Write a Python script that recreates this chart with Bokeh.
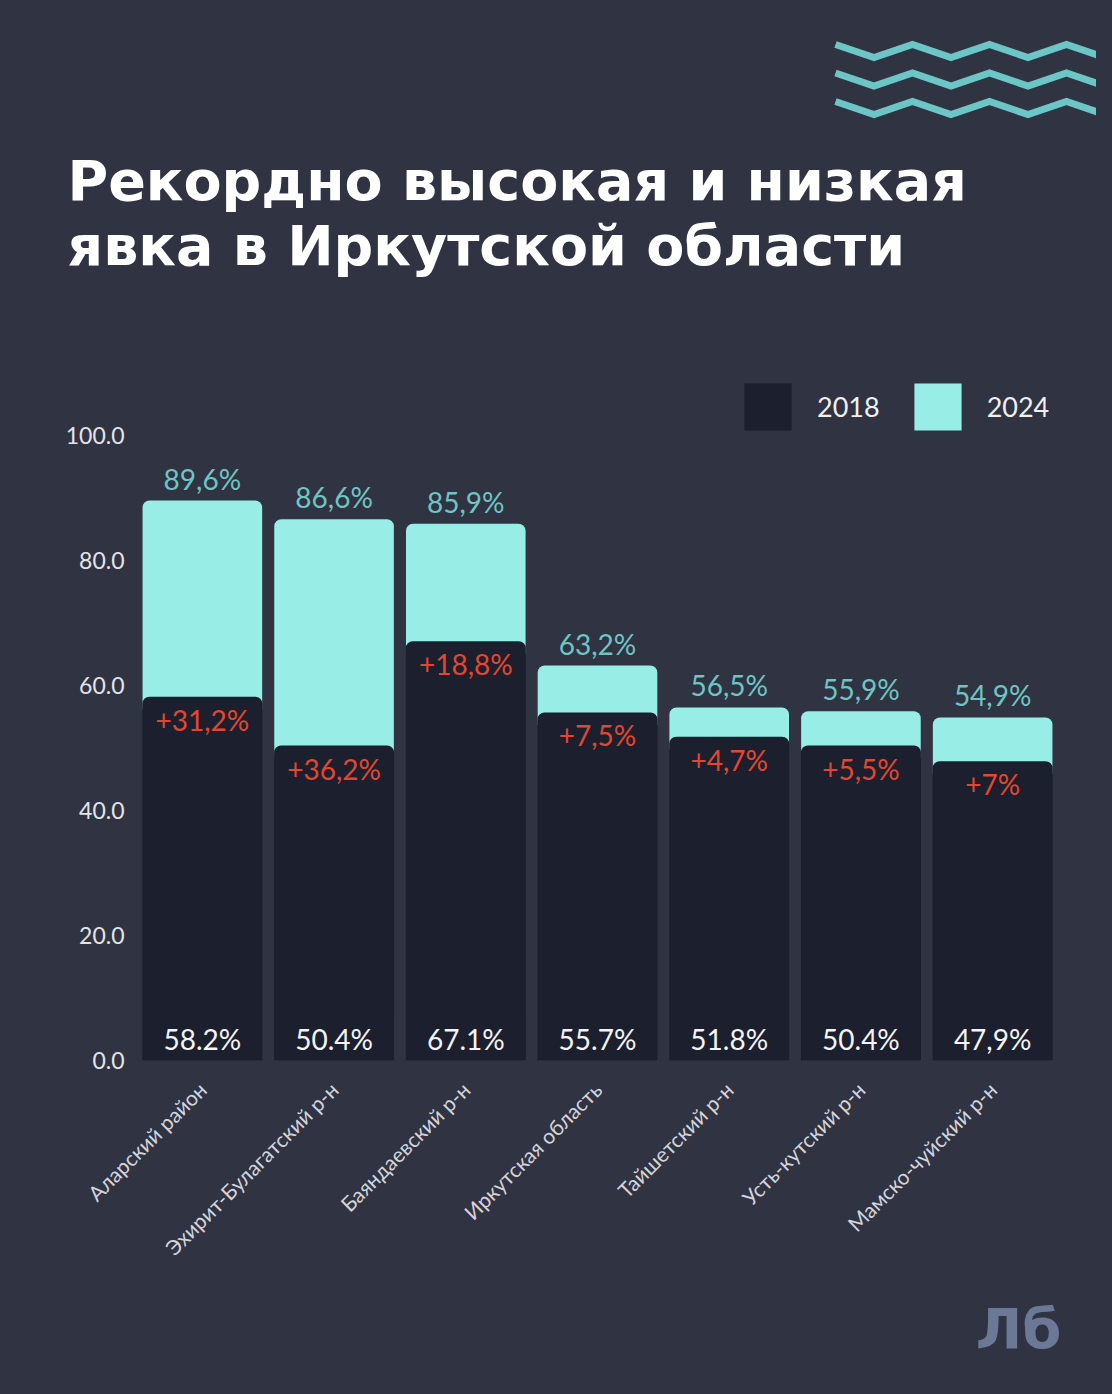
import math
from bokeh.plotting import figure
from bokeh.layouts import column
from bokeh.models import (ColumnDataSource, FixedTicker, PrintfTickFormatter,
                          Legend, LegendItem, FactorRange, Range1d)
from bokeh.core.properties import value
from bokeh.embed import file_html
from bokeh.resources import INLINE

# ---- data ----
categories = ["Аларский район", "Эхирит-Булагатский р-н", "Баяндаевский р-н",
              "Иркутская область", "Тайшетский р-н", "Усть-кутский р-н", "Мамско-чуйский р-н"]
turnout_2018 = [58.2, 50.4, 67.1, 55.7, 51.8, 50.4, 47.9]
turnout_2024 = [89.6, 86.6, 85.9, 63.2, 56.5, 55.9, 54.9]
labels_2018 = ["58.2%", "50.4%", "67.1%", "55.7%", "51.8%", "50.4%", "47,9%"]
labels_2024 = ["89,6%", "86,6%", "85,9%", "63,2%", "56,5%", "55,9%", "54,9%"]
labels_diff = ["+31,2%", "+36,2%", "+18,8%", "+7,5%", "+4,7%", "+5,5%", "+7%"]
y_ticks = [0, 20, 40, 60, 80, 100]
title_lines = ["Рекордно высокая и низкая", "явка в Иркутской области"]

BG = "#2f3342"
DARK = "#1b1f2e"
TEAL = "#98ede6"
TEAL_TXT = "#6fc5c3"
RED = "#e2472f"
WAVE = "#6cc6c6"
FONT = "Lato"

W = 1096
TOP_H = 370          # header strip
MAIN_H = 910         # chart strip
BOT_H = 1378 - TOP_H - MAIN_H   # footer strip
FL, FR = 136, 1058   # frame left/right
FB = 1060 - TOP_H    # frame bottom inside main strip
PX_PER_UNIT = 6.25

def plain(fig):
    fig.background_fill_color = BG
    fig.border_fill_color = BG
    fig.outline_line_color = None
    fig.grid.grid_line_color = None
    try:
        fig.frame_align = False
    except AttributeError:
        pass
    return fig

# ---- header: title + waves ----
top = plain(figure(width=W, height=TOP_H, x_range=Range1d(0, W), y_range=Range1d(TOP_H, 0),
                   x_axis_type=None, y_axis_type=None, output_backend="svg",
                   toolbar_location=None, min_border=0))
hdr = ColumnDataSource(dict(x=[67, 67], y=[180, 245], t=title_lines))
top.text(x="x", y="y", text="t", source=hdr, text_color="#ffffff",
         text_font=value("DejaVu Sans"), text_font_style="bold",
         text_font_size="55.5px", text_baseline="alphabetic", text_align="left")
for k in range(3):
    xs = [835 + i * 38.5 for i in range(8)]
    ys = [(44 if i % 2 == 0 else 57) + k * 28.5 for i in range(8)]
    top.line(xs, ys, line_color=WAVE, line_width=7, line_join="miter")

# ---- main chart ----
# the 2024 bar is drawn behind the 2018 bar; it starts a little below the 2018 top
# (hidden) so that no anti-aliased edge of it peeks out along the dark bar
src = ColumnDataSource(dict(cat=categories, v18=turnout_2018, v24=turnout_2024,
                            base24=[v - 2 for v in turnout_2018],
                            l18=labels_2018, l24=labels_2024, ld=labels_diff,
                            zero=[0] * len(categories)))

p = plain(figure(width=W, height=MAIN_H, x_range=FactorRange(*categories, range_padding=0),
                 y_range=Range1d(0, FB / PX_PER_UNIT), output_backend="svg",
                 toolbar_location=None, min_border_left=FL, min_border_right=W - FR,
                 min_border_top=0, min_border_bottom=MAIN_H - FB))

r24 = p.vbar(x="cat", top="v24", bottom="base24", width=0.908, source=src,
             fill_color=TEAL, line_color=None, border_radius=(7, 7, 0, 0))
r18 = p.vbar(x="cat", top="v18", width=0.911, source=src, fill_color=DARK,
             line_color=None, border_radius=(7, 7, 0, 0))

p.text(x="cat", y="v24", text="l24", source=src, text_align="center",
       text_baseline="bottom", y_offset=-5, text_color=TEAL_TXT,
       text_font=value(FONT), text_font_size="28px")
p.text(x="cat", y="v18", text="ld", source=src, text_align="center",
       text_baseline="top", y_offset=6, text_color=RED,
       text_font=value(FONT), text_font_size="28px")
p.text(x="cat", y="zero", text="l18", source=src, text_align="center",
       text_baseline="bottom", y_offset=-5, text_color="#f4f4f4",
       text_font=value(FONT), text_font_size="28px")

p.yaxis.ticker = FixedTicker(ticks=y_ticks)
p.yaxis.formatter = PrintfTickFormatter(format="%.1f")
p.yaxis.axis_line_color = None
p.yaxis.major_tick_line_color = None
p.yaxis.minor_tick_line_color = None
p.yaxis.major_label_text_color = "#e4e4e8"
p.yaxis.major_label_text_font = FONT
p.yaxis.major_label_text_font_size = "23px"
p.yaxis.major_label_standoff = 6

p.xaxis.axis_line_color = None
p.xaxis.major_tick_line_color = None
p.xaxis.major_label_orientation = math.pi / 4
p.xaxis.major_label_text_color = "#d4d4da"
p.xaxis.major_label_text_font = FONT
p.xaxis.major_label_text_font_size = "21px"
p.xaxis.major_label_standoff = 19

# legend glyphs are drawn at 80% of glyph box, so box = 59 for a 47px square
legend = Legend(items=[LegendItem(label="2018", renderers=[r18]),
                       LegendItem(label="2024", renderers=[r24])],
                orientation="horizontal", location=(738 - FL, FB - (436 - TOP_H)),
                glyph_width=59, glyph_height=59, label_standoff=20, spacing=28,
                padding=0, margin=0, background_fill_alpha=0, border_line_color=None,
                label_text_color="#f0f0f0", label_text_font=FONT,
                label_text_font_size="27px")
p.add_layout(legend)

# ---- footer: logo ----
F0 = TOP_H + MAIN_H
bot = plain(figure(width=W, height=BOT_H, x_range=Range1d(0, W),
                   y_range=Range1d(F0 + BOT_H, F0), x_axis_type=None,
                   y_axis_type=None, output_backend="svg", toolbar_location=None,
                   min_border=0))
bot.text(x=[1018], y=[1328], text=["Лб"], text_color="#6b7896",
         text_font=value("DejaVu Sans"), text_font_style="bold",
         text_font_size="56px", text_align="center", text_baseline="middle")

page = column(top, p, bot, spacing=0)
html = file_html(page, INLINE)
style = "<style>html, body { background-color: %s !important; }</style>" % BG
html = html.replace("</head>", style + "</head>", 1)
open("out.html", "w").write(html)
